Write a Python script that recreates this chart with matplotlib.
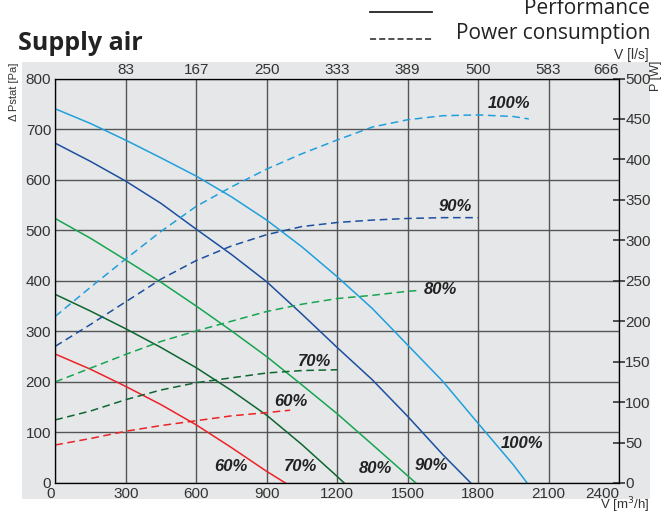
import numpy as np
import matplotlib.pyplot as plt
from matplotlib.patches import Rectangle

plt.rcParams['font.family'] = ['Liberation Sans', 'DejaVu Sans']

# Luftmenge (m3/h) und Kennlinien (Pa)
x_100 = [0, 150, 300, 450, 600, 750, 900, 1050, 1200, 1350, 1500, 1650, 1800, 1950, 2009]
p_100 = [740, 711, 678, 643, 607, 566, 520, 467, 408, 345, 273, 201, 118, 36, 0]
x_90 = [0, 150, 300, 450, 600, 750, 900, 1050, 1200, 1350, 1500, 1650, 1769]
p_90 = [672, 636, 597, 553, 502, 452, 398, 334, 268, 204, 132, 56, 0]
x_80 = [0, 150, 300, 450, 600, 750, 900, 1050, 1200, 1350, 1535]
p_80 = [523, 484, 441, 397, 350, 301, 250, 194, 137, 76, 0]
x_70 = [0, 150, 300, 450, 600, 750, 900, 1050, 1200, 1230]
p_70 = [373, 340, 305, 268, 228, 183, 134, 76, 13, 0]
x_60 = [0, 150, 300, 450, 600, 750, 900, 980]
p_60 = [255, 225, 191, 155, 115, 70, 23, 0]

# Leistungsaufnahme (W)
xw_100 = [0, 150, 300, 450, 600, 750, 900, 1050, 1200, 1350, 1500, 1650, 1800, 1950, 2016]
w_100 = [206, 242, 277, 311, 342, 366, 388, 407, 424, 440, 449, 454, 455, 453, 450]
xw_90 = [0, 150, 300, 450, 600, 750, 900, 1050, 1200, 1350, 1500, 1650, 1800]
w_90 = [169, 196, 224, 252, 275, 293, 307, 317, 322, 325, 327, 328, 328]
xw_80 = [0, 150, 300, 450, 600, 750, 900, 1050, 1200, 1350, 1500, 1550]
w_80 = [125, 142, 159, 175, 188, 200, 212, 221, 228, 232, 237, 238]
xw_70 = [0, 150, 300, 450, 600, 750, 900, 1050, 1200]
w_70 = [78, 89, 103, 115, 124, 130, 136, 139, 140]
xw_60 = [0, 150, 300, 450, 600, 750, 900, 1000]
w_60 = [47, 55, 64, 71, 77, 83, 87, 90]

x_ticks = [0, 300, 600, 900, 1200, 1500, 1800, 2100, 2400]
ls_ticks = [300, 600, 900, 1200, 1500, 1800, 2100, 2400]
ls_labels = ['83', '167', '250', '333', '389', '500', '583', '666']

farben = {'100': '#1fa0dc', '90': '#1c4f9f', '80': '#16a550', '70': '#0d6630', '60': '#ec2227'}
grau = '#e6e7e9'

fig = plt.figure(figsize=(6.65, 5.13), dpi=100)
fig.add_artist(Rectangle((22 / 665, 14 / 513), 628 / 665, 437 / 513,
                         transform=fig.transFigure, facecolor=grau, edgecolor='none', zorder=-10))

ax = fig.add_axes([55.3 / 665, 30 / 513, 563.7 / 665, 404.5 / 513])
ax.set_facecolor(grau)
ax.set_xlim(0, 2400)
ax.set_ylim(0, 800)
ax.set_xticks(x_ticks)
ax.set_yticks(np.arange(0, 801, 100))
ax.grid(True, color='#555555', linewidth=1)
ax.tick_params(length=0, labelsize=11, colors='#333333', pad=3)
ax.set_xticklabels([str(v) for v in x_ticks])
xl = ax.get_xticklabels()
xl[0].set_ha('right')
xl[-1].set_ha('right')
for s in ax.spines.values():
    s.set_color('#333333')

for xs, ys, k in [(x_100, p_100, '100'), (x_90, p_90, '90'), (x_80, p_80, '80'),
                  (x_70, p_70, '70'), (x_60, p_60, '60')]:
    ax.plot(xs, ys, color=farben[k], linewidth=1.1)

ax2 = ax.twinx()
ax2.set_ylim(0, 500)
ax2.set_yticks(np.arange(0, 501, 50))
ax2.tick_params(direction='inout', length=9, width=1.2, labelsize=11, colors='#333333', pad=0)
for xs, ys, k in [(xw_100, w_100, '100'), (xw_90, w_90, '90'), (xw_80, w_80, '80'),
                  (xw_70, w_70, '70'), (xw_60, w_60, '60')]:
    ax2.plot(xs, ys, color=farben[k], linewidth=1.1, linestyle=(0, (5, 3)))

ax3 = ax.twiny()
ax3.set_xlim(0, 2400)
ax3.set_xticks(ls_ticks)
ax3.set_xticklabels(ls_labels)
ax3.tick_params(length=0, labelsize=11, colors='#333333', pad=1)
ax3.get_xticklabels()[-1].set_ha('right')

# Beschriftungen der Kurven
lab = dict(fontsize=12, fontweight='bold', style='italic', color='#222222', ha='center', va='center')
ax.text(1932, 751, '100%', **lab)
ax.text(1702, 546, '90%', **lab)
ax.text(1641, 382, '80%', **lab)
ax.text(1104, 241, '70%', **lab)
ax.text(1002, 161, '60%', **lab)
ax.text(746, 33, '60%', **lab)
ax.text(1043, 33, '70%', **lab)
ax.text(1361, 28, '80%', **lab)
ax.text(1599, 35, '90%', **lab)
ax.text(1988, 79, '100%', **lab)

fig.text(14 / 665, 1 - 63 / 513, 'Δ Pstat [Pa]', rotation=90, ha='center', va='top',
         fontsize=8, color='#333333')
fig.text(656 / 665, 1 - 76 / 513, 'P [W]', rotation=90, ha='center', va='center',
         fontsize=9, color='#333333')
fig.text(649 / 665, 1 - 55 / 513, 'V [l/s]', ha='right', va='center', fontsize=10, color='#333333')
fig.text(649 / 665, 1 - 505 / 513, 'V [m$^3$/h]', ha='right', va='center', fontsize=9.5, color='#333333')

fig.text(18 / 665, 1 - 44 / 513, 'Supply air', fontsize=18, fontweight='bold',
         family=['Open Sans', 'DejaVu Sans'], va='center', color='#222222')

# Legende oben rechts
fig.add_artist(plt.Line2D([370 / 665, 432 / 665], [1 - 12 / 513, 1 - 12 / 513], color='#222222', linewidth=1.3))
fig.add_artist(plt.Line2D([370 / 665, 432 / 665], [1 - 39 / 513, 1 - 39 / 513], color='#222222',
                          linewidth=1.1, linestyle=(0, (4, 2))))
fig.text(650 / 665, 1 - 8 / 513, 'Performance', ha='right', va='center', fontsize=15,
         family=['Open Sans', 'DejaVu Sans'], color='#222222')
fig.text(650 / 665, 1 - 34 / 513, 'Power consumption', ha='right', va='center', fontsize=15,
         family=['Open Sans', 'DejaVu Sans'], color='#222222')

fig.savefig('out.png', dpi=100)
